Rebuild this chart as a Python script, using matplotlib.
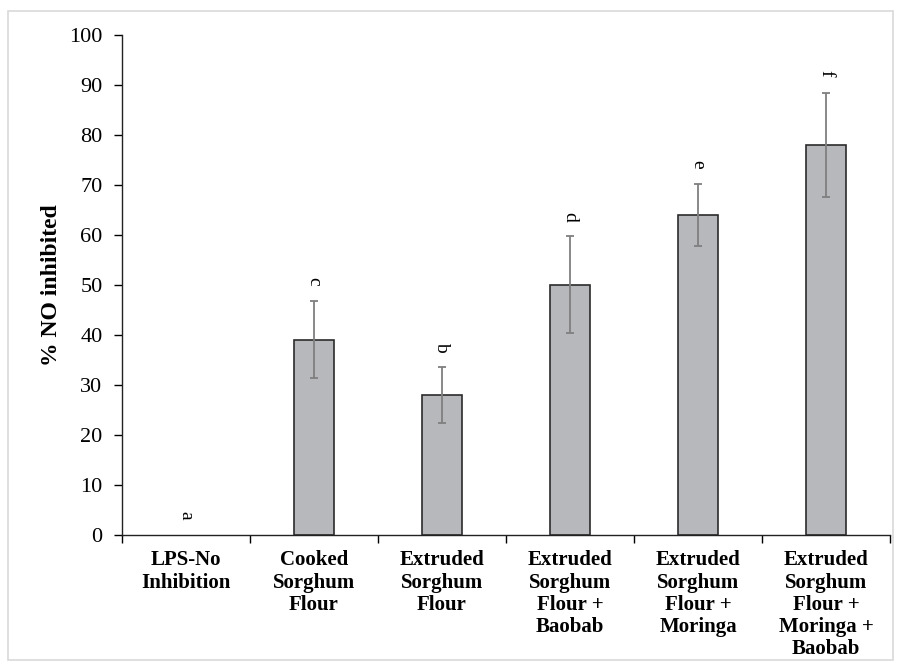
"""Bar chart of % NO inhibited with error bars and significance letters."""

import matplotlib

matplotlib.use("Agg")
import matplotlib.pyplot as plt
from matplotlib.patches import Rectangle
import numpy as np

categories = [
    "LPS-No\nInhibition",
    "Cooked\nSorghum\nFlour",
    "Extruded\nSorghum\nFlour",
    "Extruded\nSorghum\nFlour +\nBaobab",
    "Extruded\nSorghum\nFlour +\nMoringa",
    "Extruded\nSorghum\nFlour +\nMoringa +\nBaobab",
]
values = [0, 39, 28, 50, 64, 78]
errors = [0, 7.7, 5.6, 9.7, 6.2, 10.4]
letters = ["a", "c", "b", "d", "e", "f"]
yticks = list(range(0, 101, 10))

plt.rcParams["font.family"] = ["Liberation Serif", "DejaVu Serif"]

fig = plt.figure(figsize=(9.01, 6.69), dpi=100)
fig.patches.append(
    Rectangle((8 / 901, 9 / 669), 885 / 901, 649 / 669, transform=fig.transFigure,
              fill=False, edgecolor="#d9d9d9", linewidth=1.2)
)
ax = fig.add_axes([0.1354, 0.2003, 0.8524, 0.7474])

x = np.arange(len(categories))
ax.bar(x[1:], values[1:], width=0.31, color="#b7b8bc", edgecolor="#2b2b2b", linewidth=1.2, zorder=2)
ax.errorbar(x[1:], values[1:], yerr=errors[1:], fmt="none", ecolor="#7f7f7f",
            elinewidth=1.3, capsize=3, capthick=1.3, zorder=3)

for xi, v, e, lab in zip(x, values, errors, letters):
    ax.text(xi, v + e + 4.0, lab, rotation=270, ha="center", va="center", fontsize=14)

ax.set_xlim(-0.5, len(categories) - 0.5)
ax.set_ylim(0, 100)
ax.set_yticks(yticks)
ax.tick_params(axis="y", labelsize=16, length=6, width=1.0, direction="out", pad=8)

ax.set_xticks(np.arange(-0.5, len(categories), 1.0))
ax.set_xticklabels([])
ax.set_xticks(x, minor=True)
ax.set_xticklabels(categories, minor=True, fontsize=15, fontweight="bold", linespacing=1.15)
ax.tick_params(axis="x", which="major", length=6, width=1.0, direction="out")
ax.tick_params(axis="x", which="minor", length=0, pad=11)

ax.spines["top"].set_visible(False)
ax.spines["right"].set_visible(False)
ax.spines["left"].set_color("#222222")
ax.spines["bottom"].set_color("#222222")
ax.spines["left"].set_linewidth(1.0)
ax.spines["bottom"].set_linewidth(1.0)

ax.set_ylabel("% NO inhibited", fontsize=17, fontweight="bold", labelpad=5)

fig.savefig("out.png", dpi=100)
plt.close(fig)
